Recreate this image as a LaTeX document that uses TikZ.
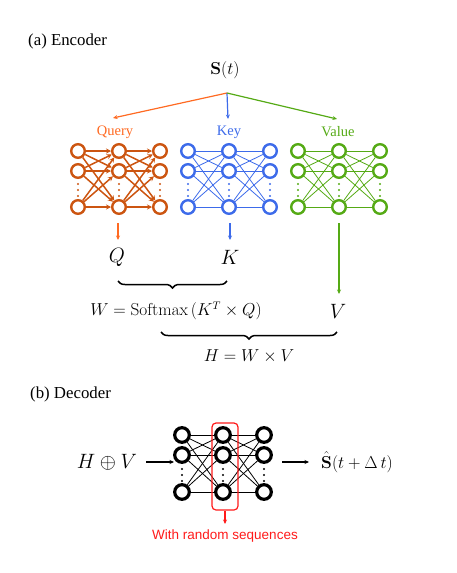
\documentclass[tikz,border=0pt]{standalone}
\usepackage[no-math]{fontspec}
\usetikzlibrary{arrows.meta,decorations.pathreplacing}
\newfontfamily\timesf{Liberation Serif}
\newfontfamily\arialf{Liberation Sans}
\definecolor{orA}{HTML}{FF6A22}
\definecolor{orN}{HTML}{CC5511}
\definecolor{blN}{HTML}{3D6BEA}
\definecolor{grN}{HTML}{55AA15}
\definecolor{redR}{HTML}{FF1A1A}
\tikzset{
  encc/.style={circle,inner sep=0pt,minimum size=13.6pt,line width=2.4pt,fill=white},
  decc/.style={circle,inner sep=0pt,minimum size=14.6pt,line width=3.2pt,fill=white,draw=black},
  thinedge/.style={line width=0.8pt},
  thickedge/.style={line width=1.5pt,-{Stealth[length=5pt,width=5pt]}},
  arr/.style={line width=1.2pt,-{Stealth[length=4.5pt,width=4pt]}},
  lbl/.style={inner sep=0pt,font=\timesf\fontsize{14.5}{16}\selectfont},
  ttl/.style={inner sep=0pt,anchor=west,font=\timesf\fontsize{16.8}{19}\selectfont},
  bigm/.style={inner sep=0pt,font=\fontsize{20}{24}\selectfont},
  midm/.style={inner sep=0pt,font=\fontsize{16}{19}\selectfont},
  brc/.style={decorate,decoration={brace,mirror,amplitude=7pt},line width=1.5pt},
}
% #1 prefix, #2 x0, #3 colour, #4 circle style, #5 edge style, #6 y1, #7 y2, #8 y3, #9 dots y
\newcommand\drawnet[9]{%
  \foreach \c in {0,1,2}{%
    \foreach \r/\y in {1/#6,2/#7,3/#8}{%
      \node[#4,draw=#3] (#1\c\r) at ({#2+41*\c},\y) {};
    }
    \foreach \dy in {-6,0,6}{\fill[#3] ({#2+41*\c},{#9+\dy}) circle (1.2pt);}
  }
  \foreach \c/\d in {0/1,1/2}{%
    \foreach \r in {1,2,3}{%
      \foreach \s in {1,2,3}{\draw[#3,#5] (#1\c\r) -- (#1\d\s);}
    }
  }
}
\begin{document}
\begin{tikzpicture}[x=1pt,y=-1pt]
\useasboundingbox (0,0) rectangle (457,573);
% ---------- (a) Encoder ----------
\node[ttl] (ta) at (28,41) {(a) Encoder};
\node[inner sep=0pt,font=\fontsize{19}{23}\selectfont] (S) at (225,70) {$\mathbf{S}(t)$};
\coordinate (br) at (227,93);
\node[lbl,text=orA] (lq) at (115,132) {Query};
\node[lbl,text=blN] (lk) at (229,132) {Key};
\node[lbl,text=grN] (lv) at (338,132) {Value};
\coordinate (qa) at (113,118);
\coordinate (ka) at (228,119);
\coordinate (va) at (337,119);
\draw[arr,orA] (br) -- (qa);
\draw[arr,blN] (br) -- (ka);
\draw[arr,grN] (br) -- (va);

\drawnet{o}{78}{orN}{encc}{thickedge}{151}{171}{207}{190}
\drawnet{b}{188}{blN}{encc}{thinedge}{151}{171}{207}{190}
\drawnet{g}{298}{grN}{encc}{thinedge}{151}{171}{207}{190}

\node[bigm] (Q) at (117,257) {$Q$};
\node[bigm] (K) at (230,257) {$K$};
\node[bigm] (V) at (338,311) {$V$};
\coordinate (qs) at (118,223);
\coordinate (qe) at (118,240);
\coordinate (ks) at (230,223);
\coordinate (ke) at (230,240);
\coordinate (vs) at (339,223);
\coordinate (ve) at (339,294);
\draw[arr,orA] (qs) -- (qe);
\draw[arr,blN] (ks) -- (ke);
\draw[arr,grN] (vs) -- (ve);

\coordinate (b1a) at (118,281);
\coordinate (b1b) at (227,281);
\draw[brc] (b1a) -- (b1b);
\node[midm] (W) at (176,311) {$W = \mathrm{Softmax}\,\bigl(K^{T}\times Q\bigr)$};
\coordinate (b2a) at (161,332);
\coordinate (b2b) at (337,332);
\draw[brc] (b2a) -- (b2b);
\node[midm] (H) at (249,356) {$H = W \times V$};

% ---------- (b) Decoder ----------
\node[ttl] (tb) at (30,394) {(b) Decoder};
\drawnet{d}{182}{black}{decc}{thinedge}{435}{455}{492}{475}
\node[bigm] (HV) at (107,462) {$H \oplus V$};
\coordinate (hst) at (146,462);
\coordinate (hin) at (174,462);
\draw[arr,black] (hst) -- (hin);
\coordinate (ost) at (282,462);
\coordinate (oen) at (309,462);
\node[inner sep=0pt,anchor=west,font=\fontsize{19}{23}\selectfont] (Sh) at (321,462) {$\hat{\mathbf{S}}(t+\Delta\,t)$};
\draw[arr,black] (ost) -- (oen);

\node[draw=redR,line width=1.2pt,rounded corners=4pt,minimum width=26pt,minimum height=87pt,inner sep=0pt] (rr) at (225,466.5) {};
\node[inner sep=0pt,text=redR,font=\arialf\fontsize{13.5}{16}\selectfont] (rt) at (225,536) {With random sequences};
\coordinate (re) at (225,524);
\draw[line width=1.2pt,redR,-{Stealth[length=4.5pt,width=4pt]}] (rr.south) -- (re);
\end{tikzpicture}
\end{document}
